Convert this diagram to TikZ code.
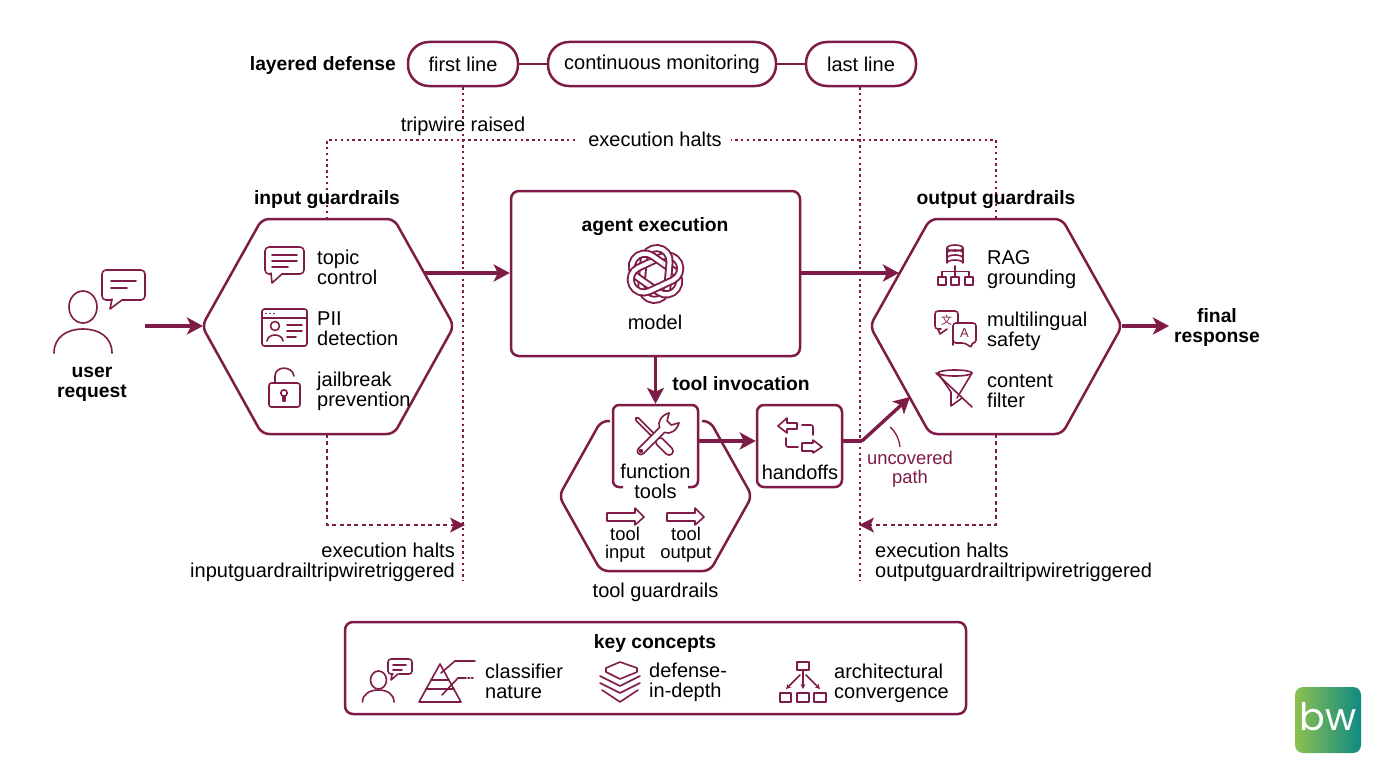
\documentclass[tikz,border=0pt]{standalone}
\usepackage{fontspec}
\setmainfont{Liberation Sans}
\newfontfamily\cjkfont{Noto Sans CJK SC}
\newfontfamily\popfont{Poppins}
\usetikzlibrary{arrows.meta,calc}
\definecolor{wine}{HTML}{7E1C47}
\definecolor{bwgreen}{HTML}{8CC04F}
\definecolor{bwteal}{HTML}{0F8A84}
\newcommand{\fs}[1]{\fontsize{#1}{20}\selectfont}
\tikzset{
 x=1pt,y=-1pt,
 shell/.style={draw=wine,line width=2.5pt,rounded corners=7pt,line join=round},
 flow/.style={draw=wine,line width=3.4pt,-{Stealth[length=16pt,width=17pt,inset=4pt]}},
 plainflow/.style={draw=wine,line width=3.4pt},
 icon/.style={draw=wine,line width=1.6pt,line join=round,line cap=round},
 halt/.style={draw=wine,line width=2.5pt,dash pattern=on 2.4pt off 3.4pt},
 haltarrow/.style={draw=wine,line width=2.3pt,dash pattern=on 4pt off 3.4pt},
 txt/.style={font=\fs{20},text=black,inner sep=0pt,align=left},
 head/.style={font=\fs{19.3}\bfseries,text=black,inner sep=0pt,align=center},
 pill/.style={draw=wine,line width=2.5pt,rounded corners=21pt,minimum height=44pt,inner sep=0pt,font=\fs{20},text=black},
 small/.style={font=\fontsize{18.4}{18}\selectfont,text=black,inner sep=0pt,align=center},
 knotband/.style={draw=wine,line width=1.9pt,double=white,double distance=4.2pt,line cap=butt},
}
\newcommand{\personicon}[3]{% cx, top of head, scale
 \begin{scope}[shift={(#1,#2)},scale=#3]
 \draw[icon] (0,16) ellipse (14 and 16);
 \draw[icon] (-29,62) .. controls (-29,46) and (-16,38) .. (0,38) .. controls (16,38) and (29,46) .. (29,62);
 \end{scope}}
\begin{document}
\begin{tikzpicture}
\useasboundingbox (0,0) rectangle (1376,768);
\fill[white] (0,0) rectangle (1376,768);

% ---- layered defense
\node[head,anchor=east] (ld) at (396,66) {layered defense};
\node[pill,minimum width=110pt] (first) at (463,64) {first line};
\node[pill,minimum width=228pt] (cont) at (662,64) {\raisebox{-1pt}{continuous monitoring}};
\node[pill,minimum width=110pt] (last) at (861,64) {last line};
\draw[wine,line width=2.2pt] (first) -- (cont);
\draw[wine,line width=2.2pt] (cont) -- (last);

% ---- anchors
\coordinate (inT) at (327,219);
\coordinate (inB) at (327,434);
\coordinate (outT) at (996,219);
\coordinate (outB) at (996,434);
\coordinate (firstEnd) at (463,581);
\coordinate (lastEnd) at (860,581);
\coordinate (inHalt) at (463,525);
\coordinate (outHalt) at (860,525);
\coordinate (upL) at (327,140);
\coordinate (upR) at (996,140);

% ---- dotted lines
\draw[halt] (first.south) -- (firstEnd);
\draw[halt] (last.south -| lastEnd) -- (lastEnd);
\draw[halt] (inT) -- (upL) -- (upR) -- (outT);
\node[txt,fill=white,inner xsep=9pt,inner ysep=2pt] (eh) at (655,139) {execution halts};
\node[txt] (tw) at (463,126) {tripwire raised};
\draw[haltarrow] (inB) -- (327,525) -- (inHalt);
\draw[haltarrow] (outB) -- (996,525) -- (outHalt);
\fill[wine] (465,525) -- (450,517.5) -- (453.5,525) -- (450,532.5) -- cycle;
\fill[wine] (859,525) -- (874,517.5) -- (870.5,525) -- (874,532.5) -- cycle;
\node[txt,anchor=east,align=right] (ehl) at (455,562) {execution halts\\inputguardrailtripwiretriggered};
\node[txt,anchor=west] (ehr) at (875,562) {execution halts\\outputguardrailtripwiretriggered};

% ---- input hexagon
\draw[shell] (202,326) -- (262,219) -- (394,219) -- (454,326) -- (394,434) -- (262,434) -- cycle;
\coordinate (inL) at (203,326);
\coordinate (inR) at (425,273);
\node[head] (ig) at (327,200) {input guardrails};
\node[txt,anchor=west] (t1) at (317,267) {topic\\control};
\node[txt,anchor=west] (t2) at (317,329) {PII\\detection};
\node[txt,anchor=west] (t3) at (317,391) {jailbreak\\prevention};

% ---- output hexagon
\draw[shell] (870,326) -- (930,219) -- (1062,219) -- (1122,326) -- (1062,434) -- (930,434) -- cycle;
\coordinate (outL) at (899,273);
\coordinate (outR) at (1122,326);
\coordinate (outLow) at (910,397);
\node[head] (og) at (996,200) {output guardrails};
\node[txt,anchor=west] (o1) at (987,270) {RAG\\grounding};
\node[txt,anchor=west] (o2) at (987,331) {multilingual\\safety};
\node[txt,anchor=west] (o3) at (987,391) {content\\filter};

% ---- user
\personicon{83}{291}{1}
\draw[icon,rounded corners=4pt] (112,300) -- (102,300) -- (102,270) -- (145,270) -- (145,300) -- (122,300);
\draw[icon] (112,299) -- (110,309) -- (122,300);
\draw[icon] (111,281) -- (136,281);
\draw[icon] (111,288) -- (127,288);
\node[head] (user) at (92,384) {user\\request};
\coordinate (userR) at (145,326);
\coordinate (finalL) at (1169,326);
\node[head] (final) at (1217,328) {final\\response};

% ---- topic icon
\draw[icon,rounded corners=4pt] (271,274) -- (265,274) -- (265,247) -- (304,247) -- (304,274) -- (282,274);
\draw[icon] (271,273) -- (272,283) -- (282,274);
\draw[icon] (272,255) -- (297,255);
\draw[icon] (272,261) -- (297,261);
\draw[icon] (272,267) -- (288,267);

% ---- PII icon
\draw[icon,rounded corners=2.5pt] (262,309) rectangle (307,346);
\draw[icon] (262,318) -- (307,318);
\foreach \xx in {266,270,274} \fill[wine] (\xx,313.5) circle (0.9);
\draw[icon] (275,326) circle (4.5);
\draw[icon] (267,341) .. controls (268,333) and (282,333) .. (283,341);
\draw[icon] (287,325) -- (302,325);
\draw[icon] (287,331) -- (302,331);
\draw[icon] (287,337) -- (296,337);

% ---- lock icon
\draw[icon,rounded corners=2.5pt] (269,383) rectangle (300,407);
\draw[icon] (275,383) -- (275,376) .. controls (275,366) and (292,365) .. (294,376);
\draw[icon] (284,393) circle (3.2);
\draw[icon] (282.8,396) -- (282.8,401) -- (285.2,401) -- (285.2,396);

% ---- RAG icon
\draw[icon] (947,248) -- (947,263) arc[start angle=180,end angle=360,x radius=8,y radius=3] -- (963,248);
\draw[icon] (955,248) ellipse (8 and 3);
\draw[icon] (947,253) arc[start angle=180,end angle=360,x radius=8,y radius=3];
\draw[icon] (947,258) arc[start angle=180,end angle=360,x radius=8,y radius=3];
\draw[icon] (955,266) -- (955,277);
\draw[icon] (942,277) -- (942,271.5) -- (969,271.5) -- (969,277);
\draw[icon] (938,277) rectangle (946,285);
\draw[icon] (951,277) rectangle (959,285);
\draw[icon] (965,277) rectangle (973,285);

% ---- translate icon
\draw[icon,rounded corners=3pt] (941,329) -- (935,329) -- (935,311) -- (958,311) -- (958,323);
\draw[icon] (938,329) -- (940,334) -- (947,329);
\draw[icon,fill=white,rounded corners=3pt] (953,342) -- (953,323) -- (976,323) -- (976,343) -- (971,343) -- (972,348) -- (965,343) -- (953,343) -- cycle;
\node[inner sep=0pt,text=wine,font=\cjkfont\fontsize{11}{11}\selectfont] (zh) at (946.5,320) {文};
\node[inner sep=0pt,text=wine,font=\fontsize{13}{13}\selectfont] (la) at (964.5,333.5) {A};

% ---- funnel icon
\draw[icon] (955,373) ellipse (17 and 3);
\draw[icon] (938,373) -- (951,392) -- (951,406) -- (962,398);
\draw[icon] (972,373) -- (957,398);
\draw[icon] (936,373) -- (972,407);

% ---- agent
\node[draw=wine,line width=2.5pt,rounded corners=8pt,minimum width=289pt,minimum height=165pt,fill=white] (agent) at (655.5,273.5) {};
\node[head] (ae) at (655,227) {agent execution};
\node[txt] (model) at (655,322) {model};
\begin{scope}[shift={(655.5,274)}]
 \foreach \a in {-5,55,115,175,235,295}{
  \draw[rotate=\a,knotband] (13,0) -- (13,13) arc[start angle=0,end angle=180,radius=13] -- (-13,0);
 }
\end{scope}

% ---- tool hexagon + function tools
\draw[shell] (559,496) -- (601,421) -- (710,421) -- (752,496) -- (710,571) -- (601,571) -- cycle;
\node[fill=white,minimum width=92pt,minimum height=84pt,inner sep=0pt] (ft) at (655.5,446) {};
\draw[shell,rounded corners=6pt] (623,487) -- (613,487) -- (613,405) -- (698,405) -- (698,487) -- (688,487);
\node[txt,align=center] (ftt) at (655.5,481.5) {function\\tools};
\node[draw=wine,line width=2.5pt,rounded corners=7pt,minimum width=85pt,minimum height=82pt,inner sep=0pt] (hand) at (799.5,446) {};
\node[txt] (hdt) at (800,472) {handoffs};
\node[head] (ti) at (741,384) {tool invocation};
\node[txt] (tg) at (655.5,592) {tool guardrails};
\node[small] (ti1) at (625,545) {tool\\input};
\node[small] (ti2) at (686,545) {tool\\output};
\draw[icon] (607,513) -- (635,513) -- (635,508) -- (644,517) -- (635,525) -- (635,521) -- (607,521) -- cycle;
\draw[icon] (667,513) -- (695,513) -- (695,508) -- (704,517) -- (695,525) -- (695,521) -- (667,521) -- cycle;

% ---- tools icon
\begin{scope}[shift={(655,437)}]
 % screwdriver
 \draw[icon,rotate=-45,fill=white] (-25,-1.8) -- (3,-1.8) -- (6,-4) -- (20,-4) arc[start angle=-90,end angle=90,radius=4] -- (6,4) -- (3,1.8) -- (-25,1.8) -- (-27,0) -- cycle;
 % wrench
 \draw[icon,rotate=45,fill=white] (-20,3.5) -- (10,3.5) .. controls (12,9) and (20,11) .. (27,7) -- (20,3) -- (20,-3) -- (27,-7) .. controls (20,-11) and (12,-9) .. (10,-3.5) -- (-20,-3.5) arc[start angle=-90,end angle=-270,radius=3.5] -- cycle;
 \draw[icon,rotate=45] (-20,0) circle (1.2);
\end{scope}

% ---- handoffs icon
\draw[icon] (797,423) -- (787,423) -- (787,418) -- (778,426) -- (787,433) -- (787,429) -- (797,429) -- cycle;
\draw[icon,rounded corners=2pt] (802,425) -- (813,425) -- (813,435);
\draw[icon,rounded corners=2pt] (786,438) -- (786,447) -- (798,447);
\draw[icon] (802,443) -- (813,443) -- (813,440) -- (822,447) -- (813,453) -- (813,451) -- (802,451) -- cycle;

% ---- main flows
\draw[flow] (userR) -- (inL);
\draw[flow] (inR) -- (agent.west |- inR);
\draw[flow] (agent.east |- outL) -- (outL);
\draw[flow] (outR) -- (finalL);
\draw[flow] (agent.south) -- (agent.south |- ft.north);
\coordinate (ftE) at (698,441);
\draw[flow] (ftE) -- (hand.west |- ftE);
\coordinate (bend) at (862,441);
\draw[plainflow] (hand.east |- bend) -- (bend);
\draw[flow] (bend) -- (outLow);
\node[small,text=wine,font=\fontsize{18.4}{19}\selectfont] (up) at (910,469.5) {uncovered\\path};
\draw[wine,line width=1.3pt] (890,427) .. controls (896,432) and (899,439) .. (900,447);

% ---- key concepts
\node[draw=wine,line width=2.5pt,rounded corners=8pt,minimum width=621pt,minimum height=92pt] (kc) at (655.5,668) {};
\node[head] (kct) at (655,644) {key concepts};
\node[txt,anchor=west] (k1) at (485,681) {classifier\\nature};
\node[txt,anchor=west] (k2) at (649,682.5) {defense-\\in-depth};
\node[txt,anchor=west] (k3) at (834,683.5) {architectural\\convergence};
\draw[icon] (378.5,680) ellipse (8 and 9);
\draw[icon] (362.5,702) .. controls (362.5,694) and (370,690) .. (378.5,690) .. controls (387,690) and (394,694) .. (394,702);
\draw[icon,rounded corners=3pt] (393,674) -- (388,674) -- (388,659) -- (412,659) -- (412,674) -- (399,674);
\draw[icon] (392,674) -- (391,680) -- (398,674);
\draw[icon] (393,665) -- (406,665);
\draw[icon] (393,670) -- (402,670);
% pyramid
\draw[icon] (440,664) -- (419,702) -- (461,702) -- cycle;
\draw[icon] (431,680) -- (449,680);
\draw[icon] (426,689) -- (454,689);
\draw[icon] (441,673) -- (455,661) -- (475,661);
\draw[icon] (442,695) -- (458,678) -- (466,678);
\draw[icon,dash pattern=on 1.5pt off 2pt] (468,678) -- (475,678);
% stack
\draw[icon] (606,668) -- (620,662) -- (637,668) -- (637,672) -- (620,679) -- (606,672) -- cycle;
\draw[icon] (600,676) -- (620,686) -- (640,676);
\draw[icon] (600,683) -- (620,693) -- (640,683);
\draw[icon] (602,690) -- (620,702) -- (638,690);
% architecture
\draw[icon] (797,662) rectangle (809,670);
\draw[icon] (780,693) rectangle (791,702);
\draw[icon] (797,693) rectangle (809,702);
\draw[icon] (814,693) rectangle (826,702);
\draw[icon,-{Stealth[length=5pt,width=5pt]}] (803,670) -- (803,689);
\draw[icon,-{Stealth[length=5pt,width=5pt]}] (800,675) -- (786,689);
\draw[icon,-{Stealth[length=5pt,width=5pt]}] (806,675) -- (820,689);

% ---- logo
\shade[left color=bwgreen,right color=bwteal,rounded corners=8pt] (1295,687) rectangle (1361,753);
\node[inner sep=0pt,text=white,font=\popfont\fontsize{38}{38}\selectfont] (bw) at (1328,717) {bw};
\end{tikzpicture}
\end{document}
